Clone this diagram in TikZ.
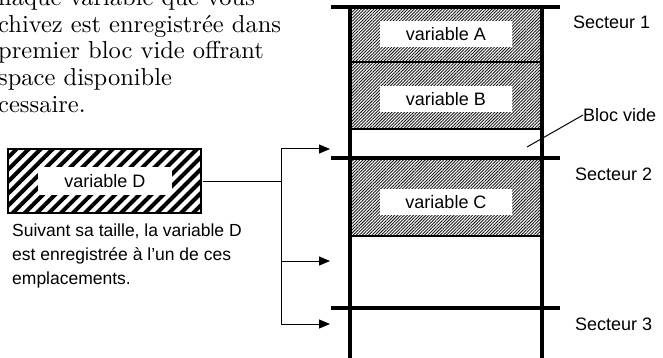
\documentclass[tikz,border=0pt]{standalone}
\usepackage{fontspec}
\setsansfont{Liberation Sans}
\newfontfamily\introfont{lmroman10-regular.otf}
\usetikzlibrary{arrows.meta,patterns.meta,positioning}
\tikzset{
  fine/.style={pattern={Lines[angle=45,distance=2.2pt,line width=0.9pt]},pattern color=black!90},
  stripes/.style={pattern={Lines[angle=45,distance=8.5pt,line width=4pt]},pattern color=black},
  varbox/.style={fill=white,font=\sffamily\fontsize{18}{22}\selectfont,minimum width=132pt,minimum height=26pt,inner sep=0pt},
  sect/.style={font=\sffamily\fontsize{18}{22}\selectfont,anchor=west,inner sep=0pt},
  wall/.style={line width=4pt},
  sep/.style={line width=2pt},
  arr/.style={-{Triangle[length=11pt,width=9pt]},line width=1pt},
}
\begin{document}
\begin{tikzpicture}[x=1pt,y=-1pt]
  \useasboundingbox (0,0) rectangle (663,358);

  % intro text, cut at the edge
  \begin{scope}
    \clip (0,0) rectangle (663,358);
    \node[anchor=north west, align=left, inner sep=0pt,
          font=\introfont\fontsize{24.5}{26.6}\selectfont] (intro) at (-2,-11.5)
      {haque variable que vous\\chivez est enregistrée dans\\ premier bloc vide offrant\\space disponible\\cessaire.};
  \end{scope}

  % sectors and blocks
  \fill[fine] (350,7) rectangle (542,129);
  \fill[fine] (350,158) rectangle (542,236);
  \node[varbox] (varA) at (446,34) {variable A};
  \node[varbox] (varB) at (446,99) {variable B};
  \node[varbox] (varC) at (446,202) {variable C};

  \draw[sep] (350,62) -- (542,62);
  \draw[sep] (350,129) -- (542,129);
  \draw[sep] (350,236) -- (542,236);
  \draw[wall] (331,7) -- (560,7);
  \draw[wall] (331,158) -- (560,158);
  \draw[wall] (331,308) -- (560,308);
  \draw[wall] (350,7) -- (350,358);
  \draw[wall] (542,7) -- (542,358);

  \node[sect] (sec1) at (573,22) {Secteur 1};
  \node[sect] (sec2) at (575,174) {Secteur 2};
  \node[sect] (sec3) at (575,324) {Secteur 3};
  \node[sect] (vide) at (583,115) {Bloc vide};
  \coordinate (vidept) at (527,147);
  \draw[line width=1pt] (vide.west) -- (vidept);

  % variable D
  \node[draw, line width=1.5pt, stripes, minimum width=193pt, minimum height=64pt] (boxD) at (104.5,181) {};
  \node[varbox, minimum width=134pt, minimum height=27pt] (varD) at (105,181) {variable D};
  \node[anchor=north west, align=left, inner sep=0pt,
        font=\sffamily\fontsize{17.5}{24}\selectfont] (note) at (12,224)
    {Suivant sa taille, la variable D\\est enregistrée à l'un de ces\\emplacements.};

  % possible places
  \coordinate (fork) at (281,181);
  \coordinate (pos1) at (330,149);
  \coordinate (pos2) at (330,261);
  \coordinate (pos3) at (330,324);
  \draw[line width=1pt] (boxD.east) -- (fork);
  \draw[arr] (fork) |- (pos1);
  \draw[arr] (fork) |- (pos2);
  \draw[arr] (fork) |- (pos3);
\end{tikzpicture}
\end{document}
